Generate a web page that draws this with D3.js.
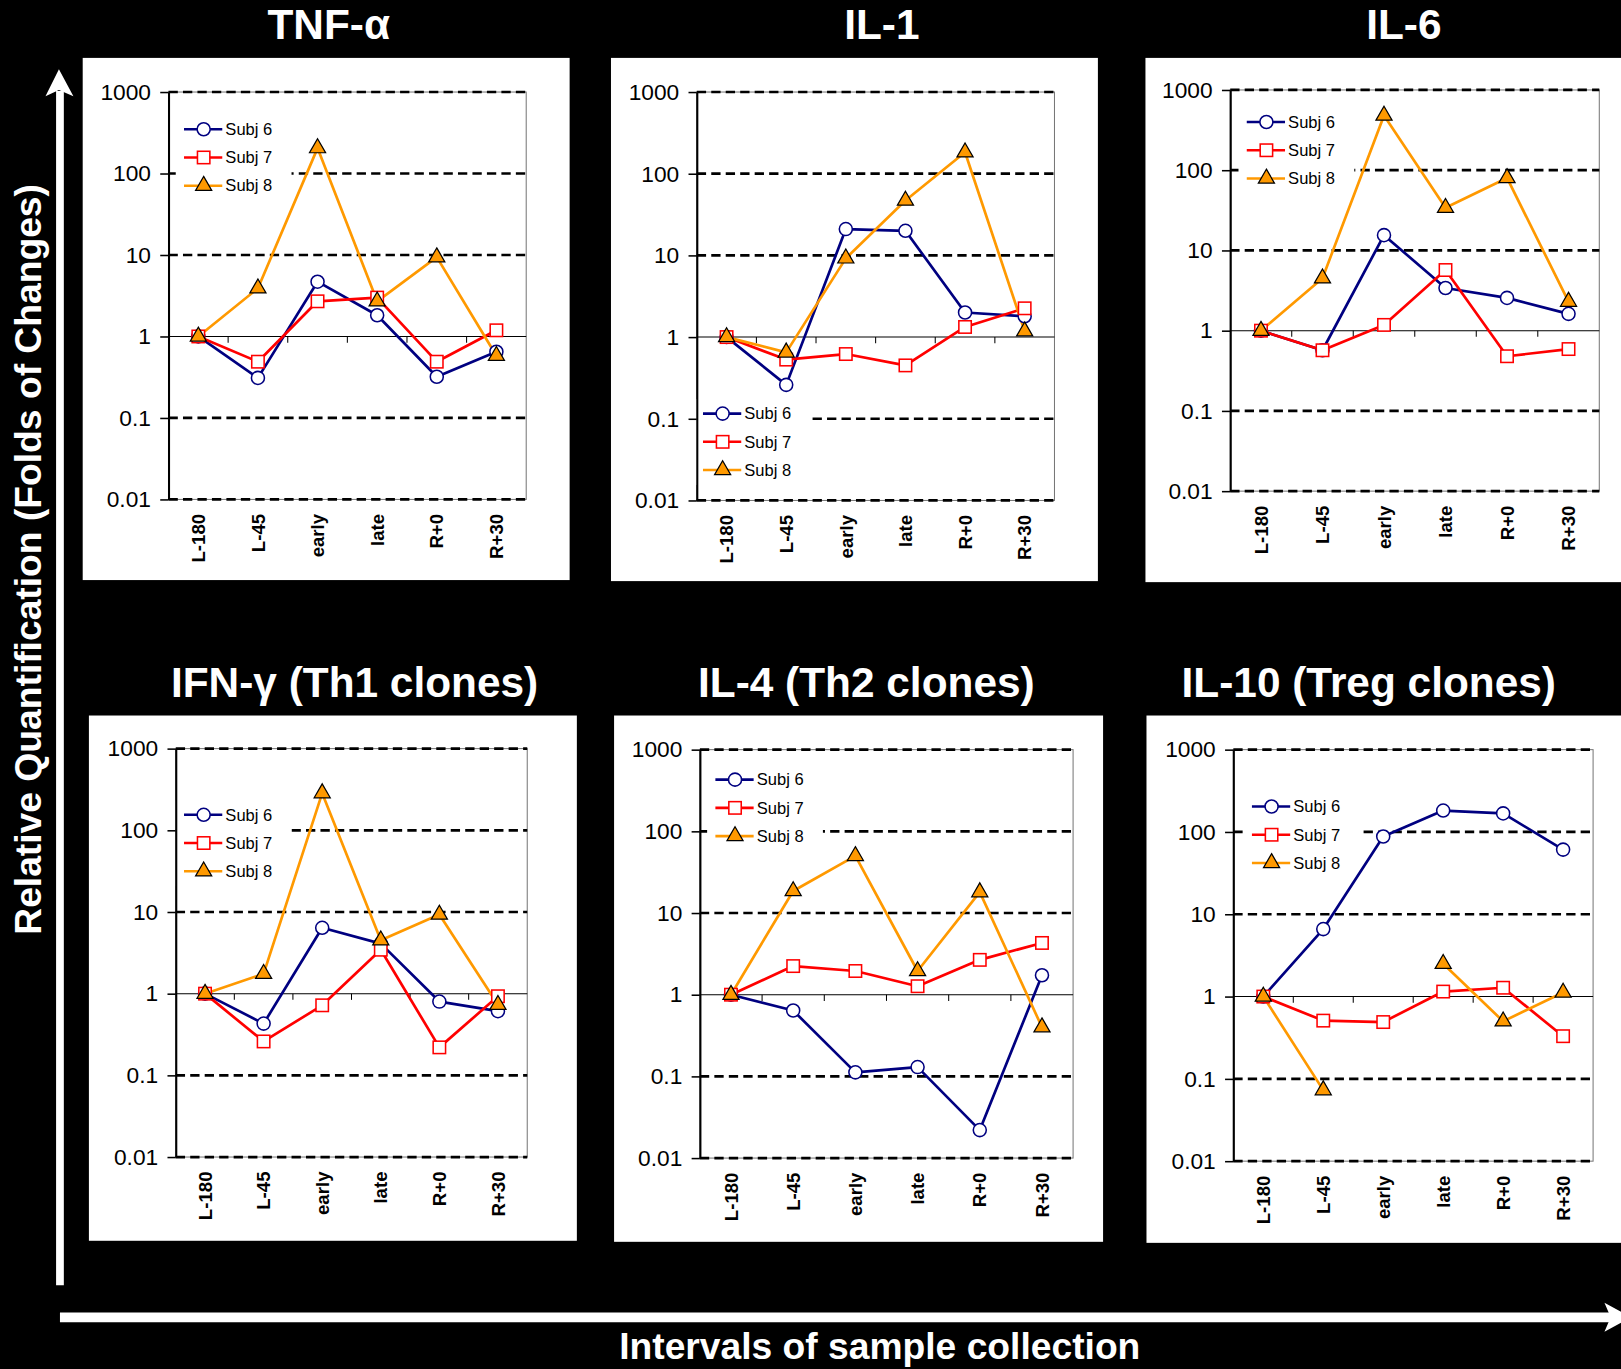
<!DOCTYPE html>
<html>
<head>
<meta charset="utf-8">
<script src="https://cdn.jsdelivr.net/npm/d3@7"></script>
<style>
  body { margin: 0; background: #000; }
  svg { display: block; }
</style>
</head>
<body>
<div id="chart"></div>
<script>
// categories / ticks
const categories = ["L-180", "L-45", "early", "late", "R+0", "R+30"];
const subjects = ["Subj 6", "Subj 7", "Subj 8"];
const yTicks = [0.01, 0.1, 1, 10, 100, 1000];
const yTickLabels = ["0.01", "0.1", "1", "10", "100", "1000"];
const panelTitles = ["TNF-\u03b1", "IL-1", "IL-6", "IFN-\u03b3 (Th1 clones)", "IL-4 (Th2 clones)", "IL-10 (Treg clones)"];

// values (folds of change)
const tnfSubj6 = [1, 0.31, 4.7, 1.82, 0.32, 0.65];
const tnfSubj7 = [1, 0.49, 2.7, 3.0, 0.49, 1.19];
const tnfSubj8 = [1, 3.9, 205, 2.7, 9.4, 0.58];

const il1Subj6 = [1, 0.26, 21, 20, 2.0, 1.8];
const il1Subj7 = [1, 0.53, 0.62, 0.45, 1.33, 2.25];
const il1Subj8 = [1, 0.65, 9.2, 47, 183, 1.18];

const il6Subj6 = [1, 0.57, 15.5, 3.4, 2.56, 1.62];
const il6Subj7 = [1, 0.57, 1.18, 5.7, 0.48, 0.59];
const il6Subj8 = [1, 4.5, 480, 34, 80, 2.3];

const ifnSubj6 = [1, 0.43, 6.4, 4.1, 0.8, 0.61];
const ifnSubj7 = [1, 0.26, 0.72, 3.45, 0.22, 0.93];
const ifnSubj8 = [1, 1.75, 285, 4.5, 9.3, 0.73];

const il4Subj6 = [1, 0.64, 0.112, 0.13, 0.022, 1.73];
const il4Subj7 = [1, 2.24, 1.95, 1.27, 2.67, 4.3];
const il4Subj8 = [1, 18.6, 50, 1.95, 18, 0.40];

const il10Subj6 = [1, 6.6, 88, 182, 168, 61];
const il10Subj7 = [1, 0.51, 0.49, 1.15, 1.28, 0.33];
const il10Subj8 = [1, 0.073, null, 2.5, 0.50, 1.12];

// layout (in 1568 x 1324 units, scaled to the window by viewBox)
const W = 1568, H = 1324;
const panels = [
  { title: panelTitles[0], tx: 318, ty: 38, box: [80, 56, 551, 561], plot: [163, 89, 509, 483], leg: [178, 125], data: [tnfSubj6, tnfSubj7, tnfSubj8] },
  { title: panelTitles[1], tx: 853, ty: 38, box: [591, 56, 1062, 562], plot: [674, 89, 1020, 484], leg: [680, 400], data: [il1Subj6, il1Subj7, il1Subj8] },
  { title: panelTitles[2], tx: 1358, ty: 38, box: [1108, 56, 1575, 563], plot: [1190, 87, 1547, 475], leg: [1206, 118], data: [il6Subj6, il6Subj7, il6Subj8] },
  { title: panelTitles[3], tx: 343, ty: 674, box: [86, 692, 558, 1200], plot: [170, 724, 510, 1119], leg: [178, 788], data: [ifnSubj6, ifnSubj7, ifnSubj8] },
  { title: panelTitles[4], tx: 838, ty: 674, box: [594, 692, 1067, 1201], plot: [677, 725, 1038, 1120], leg: [692, 754], data: [il4Subj6, il4Subj7, il4Subj8] },
  { title: panelTitles[5], tx: 1324, ty: 674, box: [1109, 692, 1575, 1202], plot: [1193, 725, 1541, 1123], leg: [1211, 780], data: [il10Subj6, il10Subj7, il10Subj8] }
];

const lineColors = ["#000080", "#ff0000", "#ff9900"];
const font = "Arial, 'Liberation Sans', Helvetica, sans-serif";

const svg = d3.select("#chart").append("svg")
  .attr("width", 1621)
  .attr("height", 1369)
  .attr("viewBox", `0 0 ${W} ${H}`)
  .attr("preserveAspectRatio", "none")
  .style("font-family", font);

svg.append("rect").attr("width", W).attr("height", H).attr("fill", "#000");

function drawMarker(sel, k, cx, cy) {
  if (k === 0) {
    sel.append("circle").attr("cx", cx).attr("cy", cy).attr("r", 6.3)
      .attr("fill", "#fff").attr("stroke", lineColors[0]).attr("stroke-width", 1.5);
  } else if (k === 1) {
    sel.append("rect").attr("x", cx - 6).attr("y", cy - 6).attr("width", 12).attr("height", 12)
      .attr("fill", "#fff").attr("stroke", lineColors[1]).attr("stroke-width", 1.5);
  } else {
    sel.append("path").attr("transform", `translate(${cx},${cy})`)
      .attr("d", d3.symbol().type(d3.symbolTriangle).size(105)())
      .attr("fill", "#ff9900").attr("stroke", "#000").attr("stroke-width", 1.2);
  }
}

function drawPanel(p) {
  const g = svg.append("g");
  const [x0, y0, x1, y1] = p.plot;
  const [lx, ly] = p.leg;

  g.append("rect")
    .attr("x", p.box[0]).attr("y", p.box[1])
    .attr("width", p.box[2] - p.box[0]).attr("height", p.box[3] - p.box[1])
    .attr("fill", "#fff");

  svg.append("text")
    .attr("x", p.tx).attr("y", p.ty)
    .attr("text-anchor", "middle")
    .attr("fill", "#fff")
    .style("font-size", "41px").style("font-weight", "bold")
    .text(p.title);

  const x = d3.scalePoint().domain(categories).range([x0, x1]).padding(0.5);
  const xb = d3.scaleBand().domain(categories).range([x0, x1]);
  const y = d3.scaleLog().domain([0.01, 1000]).range([y1, y0]);

  // thin frame
  g.append("rect").attr("x", x0).attr("y", y0).attr("width", x1 - x0).attr("height", y1 - y0)
    .attr("fill", "none").attr("stroke", "#777").attr("stroke-width", 1);

  // dashed decade lines
  g.selectAll(".grid").data(yTicks.filter(d => d !== 1)).enter().append("line")
    .attr("x1", x0).attr("x2", x1)
    .attr("y1", d => y(d)).attr("y2", d => y(d))
    .attr("stroke", "#000").attr("stroke-width", 2.6).attr("stroke-dasharray", "9,5");

  // category axis crossing at 1
  g.append("line").attr("x1", x0).attr("x2", x1).attr("y1", y(1)).attr("y2", y(1))
    .attr("stroke", "#000").attr("stroke-width", 1);
  g.selectAll(".ctick").data(categories.slice(1)).enter().append("line")
    .attr("x1", d => xb(d)).attr("x2", d => xb(d))
    .attr("y1", y(1)).attr("y2", y(1) + 6)
    .attr("stroke", "#000").attr("stroke-width", 1);

  // legend background (hides the dashed lines behind it)
  g.append("rect").attr("x", lx - 8).attr("y", ly - 14).attr("width", 112).attr("height", 83)
    .attr("fill", "#fff");

  // y axis
  const yAxis = d3.axisLeft(y).tickValues(yTicks)
    .tickFormat((d, i) => yTickLabels[i]).tickSize(8).tickSizeOuter(0).tickPadding(9);
  const ya = g.append("g").attr("transform", `translate(${x0},0)`).call(yAxis);
  ya.select(".domain").attr("stroke", "#000").attr("stroke-width", 2);
  ya.selectAll(".tick line").attr("stroke", "#000").attr("stroke-width", 1.5);
  ya.selectAll(".tick text").attr("fill", "#000")
    .style("font-size", "22px").style("font-family", font);

  // rotated category labels
  g.selectAll(".xlab").data(categories).enter().append("text")
    .attr("transform", d => `translate(${x(d)},${y1 + 14}) rotate(-90)`)
    .attr("dy", "0.36em")
    .attr("text-anchor", "end")
    .attr("fill", "#000")
    .style("font-size", "18px").style("font-weight", "bold")
    .text(d => d);

  // legend entries
  subjects.forEach((s, k) => {
    const yy = ly + k * 27.3;
    g.append("line").attr("x1", lx).attr("x2", lx + 37).attr("y1", yy).attr("y2", yy)
      .attr("stroke", lineColors[k]).attr("stroke-width", 2.5);
    drawMarker(g, k, lx + 19, yy);
    g.append("text").attr("x", lx + 40).attr("y", yy).attr("dy", "0.35em")
      .attr("fill", "#000").style("font-size", "16px").text(s);
  });

  // series
  const line = d3.line()
    .defined(d => d.v != null)
    .x(d => x(d.c))
    .y(d => y(d.v));
  p.data.forEach((vals, k) => {
    const pts = categories.map((c, i) => ({ c: c, v: vals[i] }));
    g.append("path").datum(pts)
      .attr("d", line)
      .attr("fill", "none")
      .attr("stroke", lineColors[k])
      .attr("stroke-width", 2.6)
      .attr("stroke-linejoin", "round");
  });
  p.data.forEach((vals, k) => {
    categories.forEach((c, i) => {
      if (vals[i] != null) drawMarker(g, k, x(c), y(vals[i]));
    });
  });
}

panels.forEach(drawPanel);

// big axis arrows
svg.append("line").attr("x1", 58).attr("x2", 58).attr("y1", 1243).attr("y2", 88)
  .attr("stroke", "#fff").attr("stroke-width", 7.5);
svg.append("path").attr("d", "M57,67 L71,93 L57,87 L44,93 Z").attr("fill", "#fff");

svg.append("line").attr("x1", 58).attr("x2", 1562).attr("y1", 1274).attr("y2", 1274)
  .attr("stroke", "#fff").attr("stroke-width", 9.5);
svg.append("path").attr("d", "M1578,1274 L1552,1260 L1558,1274 L1552,1288 Z").attr("fill", "#fff");

// axis titles
svg.append("text")
  .attr("transform", "translate(40,541) rotate(-90)")
  .attr("text-anchor", "middle")
  .attr("fill", "#fff")
  .style("font-size", "36px").style("font-weight", "bold")
  .text("Relative Quantification (Folds of Changes)");

svg.append("text")
  .attr("x", 851).attr("y", 1314)
  .attr("text-anchor", "middle")
  .attr("fill", "#fff")
  .style("font-size", "36px").style("font-weight", "bold")
  .text("Intervals of sample collection");
</script>
</body>
</html>
